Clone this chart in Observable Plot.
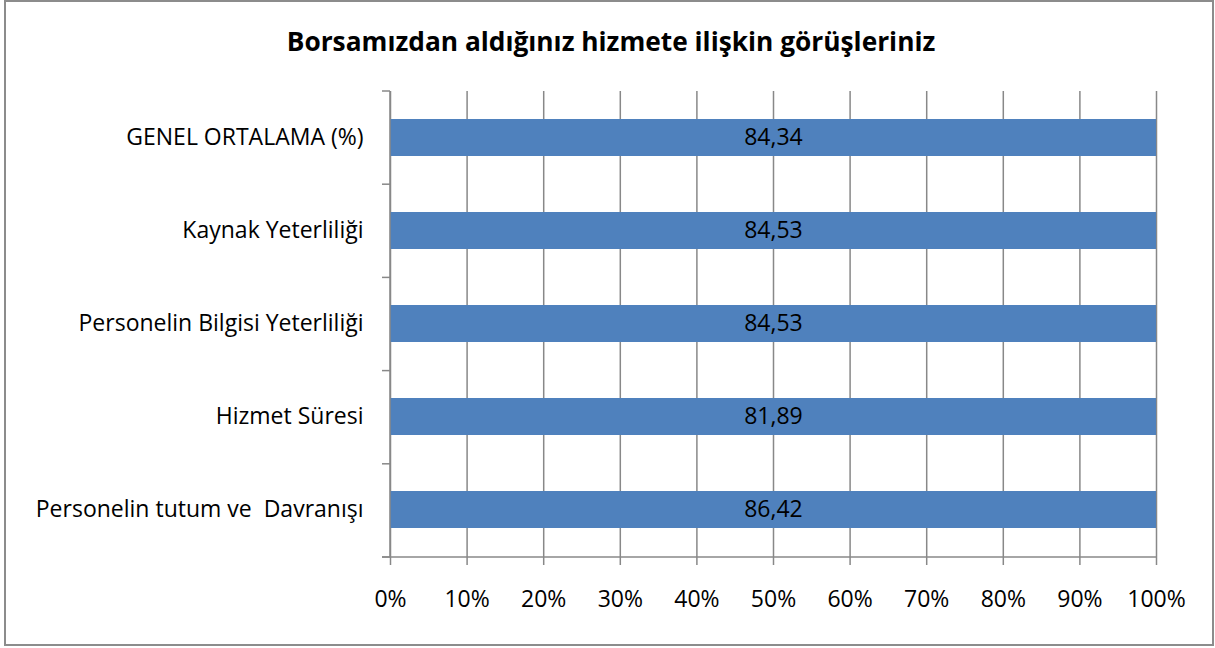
<!DOCTYPE html>
<html>
<head>
<meta charset="utf-8">
<script src="https://cdn.jsdelivr.net/npm/d3@7"></script>
<script src="https://cdn.jsdelivr.net/npm/@observablehq/plot@0.6"></script>
<style>
  html, body { margin: 0; padding: 0; background: #fff; }
  #wrap { position: relative; width: 1215px; height: 648px; overflow: hidden; font-family: "Open Sans", Lato, sans-serif; }
  #frame { position: absolute; left: 4px; top: 0px; width: 1210px; height: 646px; box-sizing: border-box; border: 2px solid #8c8c8c; }
  #title { position: absolute; left: 0; width: 1222px; top: 23px; text-align: center; font-weight: bold; font-size: 26.3px; color: #000; }
  #chart { position: absolute; left: 0; top: 0; }
</style>
</head>
<body>
<div id="wrap">
  <div id="frame"></div>
  <div id="chart"></div>
  <div id="title">Borsamızdan aldığınız hizmete ilişkin görüşleriniz</div>
</div>
<script>
const categories = [
  "GENEL ORTALAMA (%)",
  "Kaynak Yeterliliği",
  "Personelin Bilgisi Yeterliliği",
  "Hizmet Süresi",
  "Personelin tutum ve  Davranışı"
];
const values = [84.34, 84.53, 84.53, 81.89, 86.42];
const xTicks = [0, 0.1, 0.2, 0.3, 0.4, 0.5, 0.6, 0.7, 0.8, 0.9, 1];

const data = categories.map((c, i) => ({cat: c, value: values[i]}));
const fmtVal = v => d3.format(".2f")(v).replace(".", ",");
const font = '"Open Sans", Lato, sans-serif';

function boundaryTicks(index, scales, values, dims) {
  const g = d3.create("svg:g");
  const n = categories.length;
  const top = dims.marginTop, bottom = dims.height - dims.marginBottom;
  const step = (bottom - top) / n;
  const x0 = scales.x(0), x1 = scales.x(1);
  g.append("line").attr("x1", x0).attr("x2", x0).attr("y1", top).attr("y2", bottom)
    .attr("stroke", "#888").attr("stroke-width", 1.5);
  for (let i = 0; i <= n; i++) {
    const y = top + i * step;
    g.append("line").attr("x1", x0 - 8).attr("x2", x0).attr("y1", y).attr("y2", y)
      .attr("stroke", "#888").attr("stroke-width", 1.5);
  }
  g.append("line").attr("x1", x0 - 8).attr("x2", x1).attr("y1", bottom).attr("y2", bottom)
    .attr("stroke", "#888").attr("stroke-width", 1.5);
  return g.node();
}

const chart = Plot.plot({
  width: 1215,
  height: 648,
  marginLeft: 390,
  marginRight: 59,
  marginTop: 91,
  marginBottom: 91,
  style: {fontFamily: font, fontSize: "23px", color: "#000", background: "transparent"},
  x: {domain: [0, 1], label: null},
  y: {domain: categories, paddingInner: 0.6, paddingOuter: 0.3, label: null},
  marks: [
    Plot.gridX(xTicks, {stroke: "#888", strokeOpacity: 1, strokeWidth: 1.5}),
    Plot.barX(data, Plot.stackX({x: "value", y: "cat", offset: "normalize", fill: "#4F81BD"})),
    Plot.text(data, Plot.stackX({x: "value", y: "cat", offset: "normalize", text: d => fmtVal(d.value), fill: "#000", fontSize: 23})),
    boundaryTicks,
    Plot.axisX(xTicks, {tickSize: 8, tickPadding: 25, stroke: "#888", strokeWidth: 1.5, tickFormat: d => Math.round(d * 100) + "%", fontSize: 23, fill: "#000", label: null}),
    Plot.axisY({tickSize: 0, tickPadding: 27, fontSize: 23, fill: "#000", label: null})
  ]
});
document.getElementById("chart").appendChild(chart);
</script>
</body>
</html>
